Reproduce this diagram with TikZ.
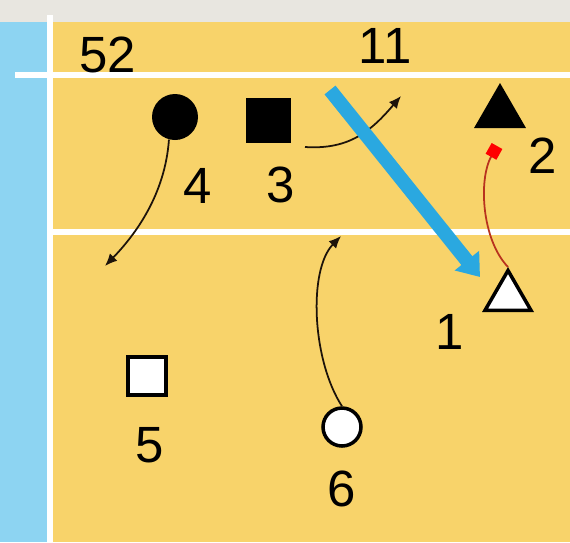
\documentclass[tikz,border=0pt]{standalone}
\usepackage{fontspec}
\setmainfont{Liberation Sans}
\usetikzlibrary{shapes.geometric,arrows.meta}
\definecolor{court}{HTML}{F8D36A}
\definecolor{sideblue}{HTML}{8DD4F2}
\definecolor{topgrey}{HTML}{E8E6E0}
\definecolor{passblue}{HTML}{2AA8E0}
\definecolor{runred}{HTML}{B8321E}

\begin{document}
\begin{tikzpicture}[x=0.02cm, y=-0.02cm,
  num/.style={font=\fontsize{29}{29}\selectfont, inner sep=0pt},
  courtline/.style={white, line width=3pt},
  blackdot/.style={circle, fill=black, minimum size=0.92cm, inner sep=0pt},
  whitedot/.style={circle, draw=black, line width=2pt, fill=white, minimum size=0.76cm, inner sep=0pt},
  blacksq/.style={rectangle, fill=black, minimum size=0.9cm, inner sep=0pt},
  whitesq/.style={rectangle, draw=black, line width=2pt, fill=white, minimum size=0.76cm, inner sep=0pt},
  blacktri/.style={regular polygon, regular polygon sides=3, fill=black, minimum size=1.2cm, inner sep=0pt},
  whitetri/.style={regular polygon, regular polygon sides=3, draw=black, line width=2pt, fill=white, minimum size=1.06cm, inner sep=0pt},
  run/.style={-{Latex[length=7pt,width=6pt]}, line width=1pt, black!85!brown},
  pass/.style={-{Triangle[length=0.42cm,width=0.6cm]}, line width=8pt, passblue}
]
\useasboundingbox (0,0) rectangle (570,542);

% court
\fill[topgrey] (0,0) rectangle (570,22);
\fill[sideblue] (0,22) rectangle (50,542);
\fill[court] (50,22) rectangle (570,542);
\draw[courtline] (50,15) -- (50,542);
\draw[courtline] (15,75) -- (570,75);
\draw[courtline] (53,232) -- (570,232);

% players
\node[blackdot] (p4) at (175,117) {};
\node[blacksq] (p3) at (268,120) {};
\node[blacktri] (p2) at (500,113) {};
\node[whitetri] (p1) at (508,297) {};
\node[whitesq] (p5) at (147,376) {};
\node[whitedot] (p6) at (342,427) {};

% numbers
\node[num] (n52) at (108,55) {52};
\node[num] (n11) at (385,46) {11};
\node[num] (n4) at (198,186) {4};
\node[num] (n3) at (281,185) {3};
\node[num] (n2) at (543,156) {2};
\node[num] (n1) at (450,332) {1};
\node[num] (n5) at (150,445) {5};
\node[num] (n6) at (342,489) {6};

% free ends
\coordinate (e4) at (105,266);
\coordinate (e3) at (401,96);
\coordinate (e6) at (341,236);
\coordinate (e2) at (497,146);
\coordinate (s3) at (305,147);
\coordinate (b0) at (330,90);
\coordinate (b1) at (480,277);

\draw[run] (p4.255) .. controls (165,195) and (135,235) .. (e4);
\draw[run] (s3) .. controls (350,150) and (372,130) .. (e3);
\draw[run] (p6.north) .. controls (312,360) and (308,270) .. (e6);
\draw[-{Square[length=7pt,width=7pt,color=red]}, line width=1pt, runred] (p1.north) .. controls (482,240) and (478,180) .. (e2);
\draw[pass] (b0) -- (b1);
\end{tikzpicture}
\end{document}
